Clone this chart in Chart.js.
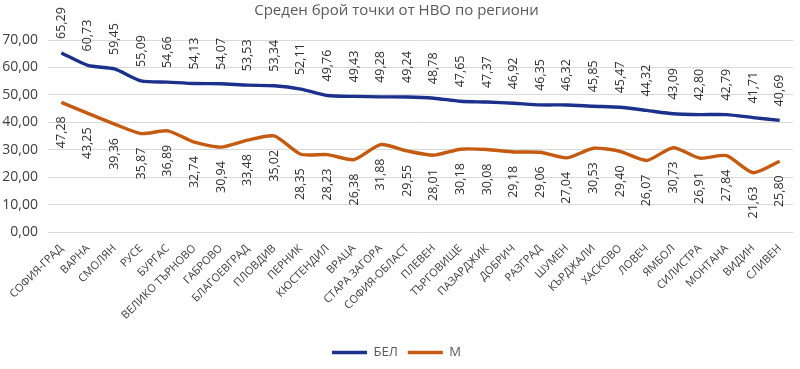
<!DOCTYPE html>
<html>
<head>
<meta charset="utf-8">
<script src="https://cdn.jsdelivr.net/npm/chart.js@4/dist/chart.umd.min.js"></script>
<style>
  html, body { margin: 0; padding: 0; background: #fff; }
  #wrap { width: 800px; height: 369px; }
</style>
</head>
<body>
<div id="wrap"><canvas id="c" width="800" height="369"></canvas></div>
<script>
const titleText = 'Среден брой точки от НВО по региони';
const categories = ['СОФИЯ-ГРАД', 'ВАРНА', 'СМОЛЯН', 'РУСЕ', 'БУРГАС', 'ВЕЛИКО ТЪРНОВО', 'ГАБРОВО',
  'БЛАГОЕВГРАД', 'ПЛОВДИВ', 'ПЕРНИК', 'КЮСТЕНДИЛ', 'ВРАЦА', 'СТАРА ЗАГОРА', 'СОФИЯ-ОБЛАСТ', 'ПЛЕВЕН',
  'ТЪРГОВИЩЕ', 'ПАЗАРДЖИК', 'ДОБРИЧ', 'РАЗГРАД', 'ШУМЕН', 'КЪРДЖАЛИ', 'ХАСКОВО', 'ЛОВЕЧ', 'ЯМБОЛ',
  'СИЛИСТРА', 'МОНТАНА', 'ВИДИН', 'СЛИВЕН'];
const belValues = [65.29, 60.73, 59.45, 55.09, 54.66, 54.13, 54.07, 53.53, 53.34, 52.11, 49.76, 49.43,
  49.28, 49.24, 48.78, 47.65, 47.37, 46.92, 46.35, 46.32, 45.85, 45.47, 44.32, 43.09, 42.80, 42.79, 41.71, 40.69];
const mValues = [47.28, 43.25, 39.36, 35.87, 36.89, 32.74, 30.94, 33.48, 35.02, 28.35, 28.23, 26.38,
  31.88, 29.55, 28.01, 30.18, 30.08, 29.18, 29.06, 27.04, 30.53, 29.40, 26.07, 30.73, 26.91, 27.84, 21.63, 25.80];
const seriesNames = ['БЕЛ', 'М'];
const yMin = 0, yMax = 70, yStep = 10;

const FONT = "'Open Sans', 'Noto Sans', sans-serif";
const fmt = v => Number(v).toFixed(2).replace('.', ',');

const valueLabels = {
  id: 'valueLabels',
  afterDatasetsDraw(chart) {
    const ctx = chart.ctx;
    chart.data.datasets.forEach((ds, i) => {
      const meta = chart.getDatasetMeta(i);
      const above = ds.labelPos === 'above';
      meta.data.forEach((pt, j) => {
        ctx.save();
        ctx.font = '12.5px ' + FONT;
        ctx.fillStyle = '#303030';
        ctx.translate(pt.x, pt.y + (above ? -14 : 14));
        ctx.rotate(-Math.PI / 2);
        ctx.textAlign = above ? 'left' : 'right';
        ctx.textBaseline = 'middle';
        ctx.fillText(fmt(ds.data[j]), 0, 0);
        ctx.restore();
      });
    });
  }
};

new Chart(document.getElementById('c'), {
  type: 'line',
  data: {
    labels: categories,
    datasets: [
      { label: seriesNames[0], data: belValues, borderColor: '#1c318c', backgroundColor: '#1c318c',
        borderWidth: 3.4, pointRadius: 0, tension: 0.22, labelPos: 'above' },
      { label: seriesNames[1], data: mValues, borderColor: '#c55a11', backgroundColor: '#c55a11',
        borderWidth: 3.4, pointRadius: 0, tension: 0.22, labelPos: 'below' }
    ]
  },
  options: {
    responsive: false,
    animation: false,
    devicePixelRatio: 1,
    layout: { padding: { left: 0, right: 7, top: 0, bottom: 0 } },
    plugins: {
      title: {
        display: true, text: titleText, color: '#595959',
        font: { family: FONT, size: 15, weight: 'normal' },
        padding: { top: 2, bottom: 20 }
      },
      legend: {
        position: 'bottom',
        labels: {
          usePointStyle: true, pointStyle: 'line', pointStyleWidth: 35,
          color: '#595959', font: { family: FONT, size: 13 }, padding: 10
        }
      },
      tooltip: { enabled: false }
    },
    scales: {
      x: {
        offset: true,
        grid: { display: false, drawTicks: false },
        border: { display: false },
        ticks: {
          autoSkip: false, maxRotation: 45, minRotation: 45, padding: 10,
          color: '#404040', font: { family: FONT, size: 11 }
        },
        afterFit: s => { s.height = 104; }
      },
      y: {
        min: yMin, max: yMax,
        grid: { color: '#d9d9d9', lineWidth: 1, drawTicks: false },
        border: { display: false },
        ticks: {
          stepSize: yStep, padding: 10, color: '#404040',
          font: { family: FONT, size: 14 },
          callback: v => fmt(v)
        },
        afterFit: s => { s.width = 48; }
      }
    }
  },
  plugins: [valueLabels]
});
</script>
</body>
</html>
